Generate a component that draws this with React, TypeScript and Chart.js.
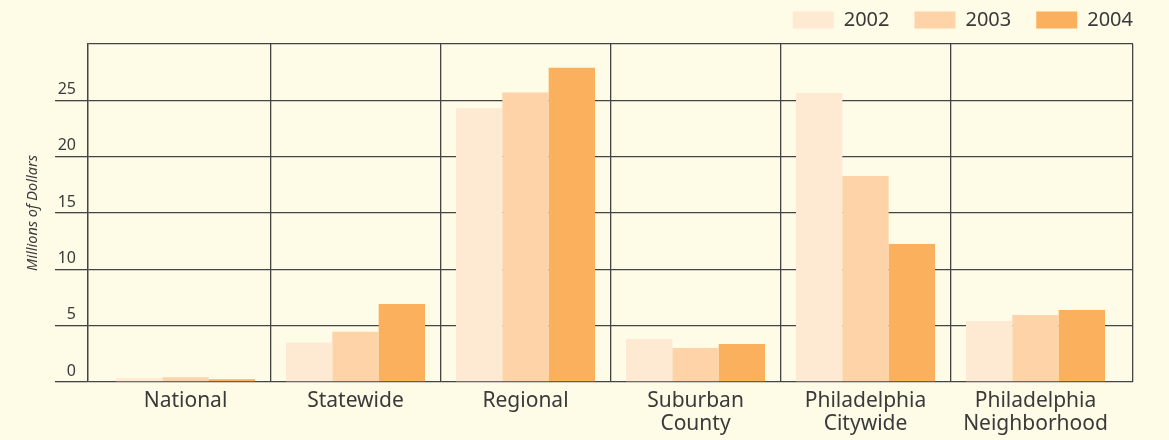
import React, { useEffect, useRef } from "react";
import { Chart, registerables } from "chart.js";

Chart.register(...registerables);

const categories: string[][] = [
  ["National"],
  ["Statewide"],
  ["Regional"],
  ["Suburban", "County"],
  ["Philadelphia", "Citywide"],
  ["Philadelphia", "Neighborhood"],
];
const years = ["2002", "2003", "2004"];
const values2002 = [0.33, 3.5, 24.3, 3.82, 25.65, 5.41];
const values2003 = [0.42, 4.45, 25.7, 3.02, 18.28, 5.95];
const values2004 = [0.24, 6.92, 27.9, 3.37, 12.25, 6.39];
const yTickValues = [0, 5, 10, 15, 20, 25, 30];
const yMax = 30;

const colors = ["#FEE9D3", "#FDD3A7", "#FBB05E"];
const BG = "#FEFBE7";
const LINE = "#444444";
const TEXT = "#3a3a3a";

export default function App() {
  const ref = useRef<HTMLCanvasElement | null>(null);

  useEffect(() => {
    document.body.style.margin = "0";
    document.body.style.background = BG;
    const canvas = ref.current;
    if (!canvas) return;
    Chart.defaults.font.family = "'Noto Sans', sans-serif";
    Chart.defaults.color = TEXT;

    const n = categories.length;
    const edge = 0.5 + 12.5 / 170;
    const xMin = -edge;
    const xMax = n - 1 + edge;
    const series = [values2002, values2003, values2004];

    const chart = new Chart(canvas, {
      type: "bar",
      data: {
        datasets: series.map((vals, si) => ({
          label: years[si],
          data: vals.map((v, i) => ({ x: i, y: v })),
          backgroundColor: colors[si],
          borderWidth: 0,
          categoryPercentage: 0.818,
          barPercentage: 1.0,
        })),
      },
      options: {
        animation: false,
        responsive: false,
        events: [],
        layout: { padding: { top: -15, right: 11, left: 0, bottom: 0 } },
        plugins: {
          tooltip: { enabled: false },
          legend: {
            position: "top",
            align: "end",
            labels: {
              boxWidth: 41,
              boxHeight: 17,
              padding: 25,
              font: { size: 20 },
              color: TEXT,
            },
          },
        },
        scales: {
          x: {
            type: "linear",
            position: "bottom",
            min: xMin,
            max: xMax,
            offset: false,
            afterBuildTicks: (axis: any) => {
              axis.ticks = categories.map((_, i) => ({ value: i }));
            },
            afterFit: (axis: any) => {
              axis.height = 58;
            },
            ticks: {
              autoSkip: false,
              maxRotation: 0,
              padding: 7,
              font: { size: 21, lineHeight: 1.1 },
              color: TEXT,
              callback: (v: any) => categories[Math.round(Number(v))] ?? "",
            },
            grid: { display: false, drawTicks: false, offset: false },
            border: { display: false },
          },
          x2: {
            type: "linear",
            position: "top",
            min: xMin,
            max: xMax,
            offset: false,
            afterBuildTicks: (axis: any) => {
              const t: any[] = [{ value: xMin }];
              for (let i = 0; i < n - 1; i++) t.push({ value: i + 0.5 });
              t.push({ value: xMax });
              axis.ticks = t;
            },
            afterFit: (axis: any) => {
              axis.height = 4;
            },
            ticks: { display: false },
            grid: {
              display: true,
              drawTicks: false,
              offset: false,
              color: LINE,
              lineWidth: 1.3,
            },
            border: { display: false },
          },
          y: {
            type: "linear",
            position: "left",
            min: 0,
            max: yMax,
            afterBuildTicks: (axis: any) => {
              axis.ticks = yTickValues.map((v) => ({ value: v }));
            },
            afterFit: (axis: any) => {
              axis.width = 88;
            },
            ticks: {
              padding: -21,
              labelOffset: -11,
              font: { size: 16 },
              color: TEXT,
              callback: (v: any) => (Number(v) === yMax ? "" : String(v)),
            },
            grid: {
              color: LINE,
              lineWidth: 1.3,
              drawTicks: true,
              tickLength: 33,
              tickColor: (ctx: any) =>
                ctx.tick && ctx.tick.value === yMax ? "rgba(0,0,0,0)" : LINE,
            },
            border: { display: true, color: LINE, width: 1.3 },
            title: {
              display: true,
              text: "Millions of Dollars",
              font: { size: 14.5, style: "italic" },
              color: TEXT,
              padding: { top: 24, bottom: 0 },
            },
          },
          y2: {
            type: "linear",
            position: "right",
            afterFit: (axis: any) => {
              axis.width = 25;
            },
            ticks: { display: false },
            grid: { display: false, drawTicks: false },
            border: { display: false },
          },
        },
      },
    } as any);

    return () => chart.destroy();
  }, []);

  return (
    <div style={{ width: 1169, height: 440, background: BG }}>
      <canvas ref={ref} width={1169} height={440} />
    </div>
  );
}
